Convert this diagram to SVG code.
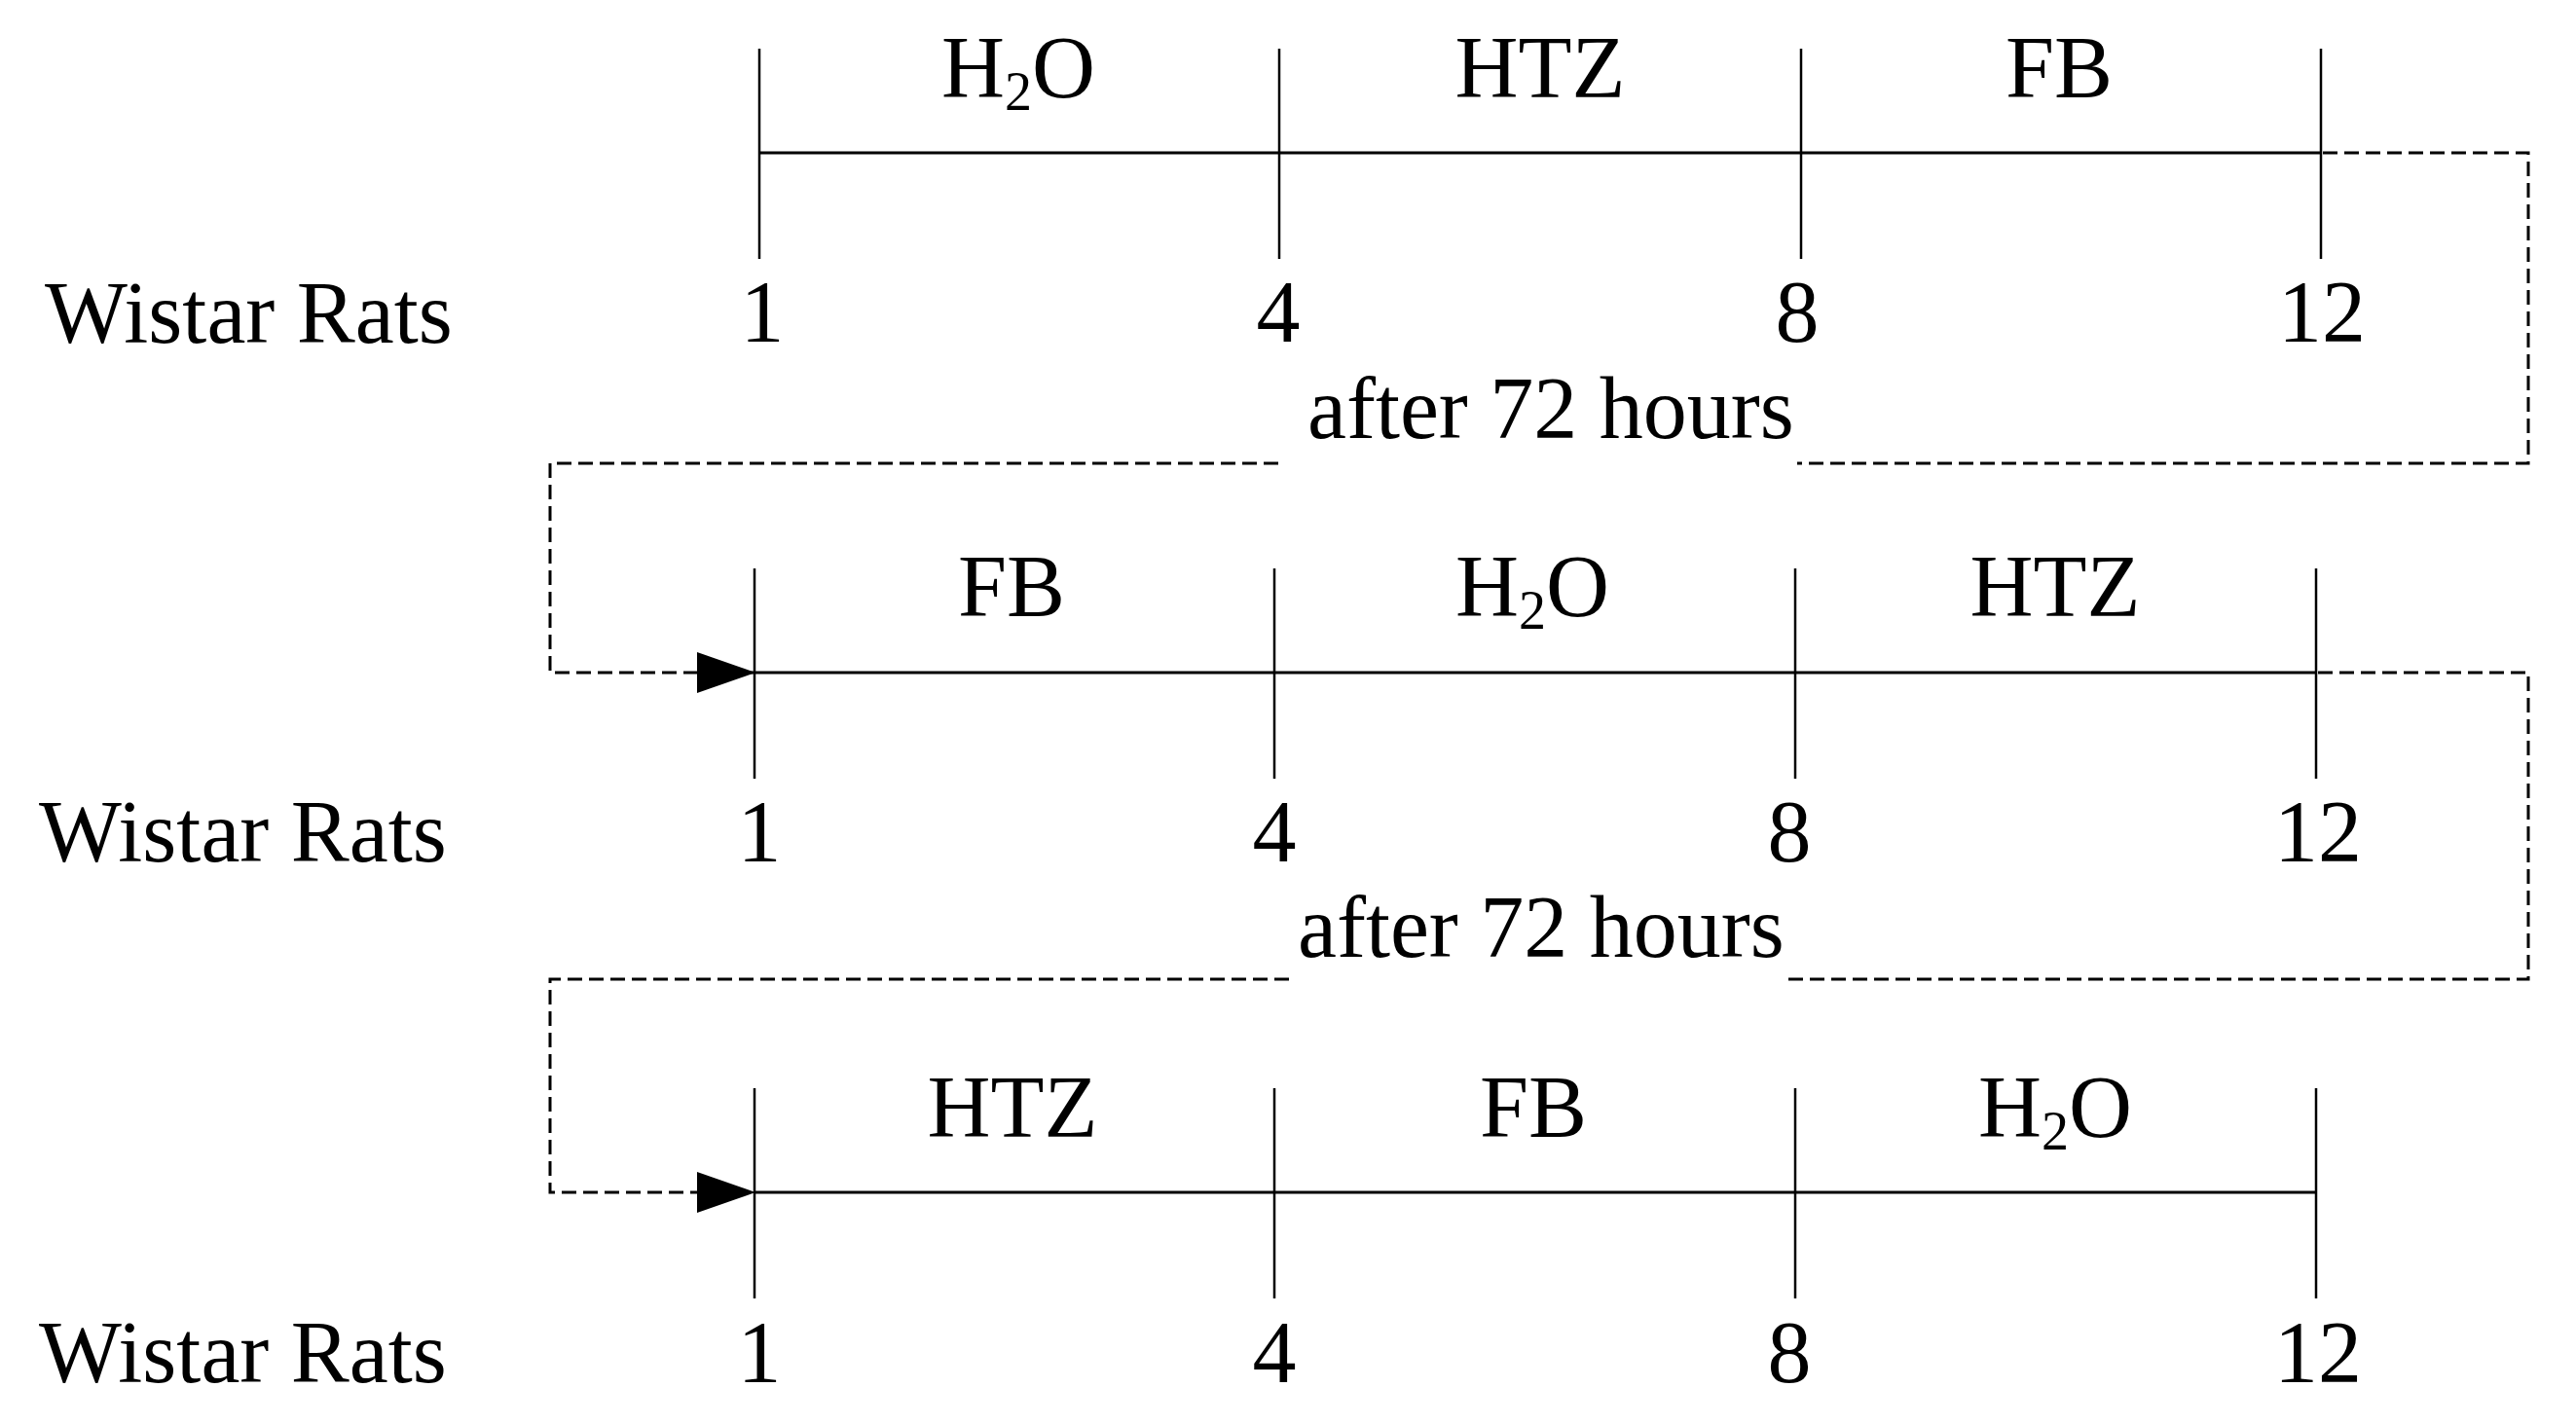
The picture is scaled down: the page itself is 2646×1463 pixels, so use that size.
<svg xmlns="http://www.w3.org/2000/svg" width="2646" height="1463" viewBox="0 0 2646 1463">
<style>
text{font-family:"Liberation Serif","Times New Roman",serif;font-size:90px;fill:#000}
.mid{text-anchor:middle}
.sub{font-size:56px}
.axis{stroke:#000;stroke-width:3;fill:none}
.tick{stroke:#000;stroke-width:2.5;fill:none}
.dash{stroke:#000;stroke-width:3;fill:none;stroke-dasharray:15 7}
</style>
<defs>
<marker id="arrow" markerUnits="userSpaceOnUse" markerWidth="62" markerHeight="44" refX="60" refY="21" orient="auto">
<path d="M0,0 L60,21 L0,42 Z" fill="#000"/>
</marker>
</defs>
<rect width="2646" height="1463" fill="#fff"/>

<g id="connectors">
<path class="dash" d="M2386,157 H2597 V476 H1846"/>
<path class="dash" d="M1313,476 H565 V691 H776" marker-end="url(#arrow)"/>
<path class="dash" d="M2381,691 H2597 V1006 H1833"/>
<path class="dash" d="M1324,1006 H565 V1225 H776" marker-end="url(#arrow)"/>
</g>

<g id="timeline1">
<line class="axis" x1="780" y1="157" x2="2385" y2="157"/>
<line class="tick" x1="780" y1="50" x2="780" y2="266"/>
<line class="tick" x1="1314" y1="50" x2="1314" y2="266"/>
<line class="tick" x1="1850" y1="50" x2="1850" y2="266"/>
<line class="tick" x1="2384" y1="50" x2="2384" y2="266"/>
<text class="mid" x="1046" y="100">H<tspan class="sub" dy="13">2</tspan><tspan dy="-13">O</tspan></text>
<text class="mid" x="1582" y="100">HTZ</text>
<text class="mid" x="2115" y="100">FB</text>
<text x="46" y="352">Wistar Rats</text>
<text class="mid" x="783" y="351">1</text>
<text class="mid" x="1313" y="351">4</text>
<text class="mid" x="1846" y="351">8</text>
<text class="mid" x="2385" y="351">12</text>
</g>

<g id="gap1">
<text x="1343" y="450">after 72 hours</text>
</g>

<g id="timeline2">
<line class="axis" x1="775" y1="691" x2="2380" y2="691"/>
<line class="tick" x1="775" y1="584" x2="775" y2="800"/>
<line class="tick" x1="1309" y1="584" x2="1309" y2="800"/>
<line class="tick" x1="1844" y1="584" x2="1844" y2="800"/>
<line class="tick" x1="2379" y1="584" x2="2379" y2="800"/>
<text class="mid" x="1039" y="633">FB</text>
<text class="mid" x="1574" y="633">H<tspan class="sub" dy="13">2</tspan><tspan dy="-13">O</tspan></text>
<text class="mid" x="2111" y="633">HTZ</text>
<text x="40" y="885">Wistar Rats</text>
<text class="mid" x="780" y="885">1</text>
<text class="mid" x="1309" y="885">4</text>
<text class="mid" x="1838" y="885">8</text>
<text class="mid" x="2381" y="885">12</text>
</g>

<g id="gap2">
<text x="1333" y="983">after 72 hours</text>
</g>

<g id="timeline3">
<line class="axis" x1="775" y1="1225" x2="2379" y2="1225"/>
<line class="tick" x1="775" y1="1118" x2="775" y2="1334"/>
<line class="tick" x1="1309" y1="1118" x2="1309" y2="1334"/>
<line class="tick" x1="1844" y1="1118" x2="1844" y2="1334"/>
<line class="tick" x1="2379" y1="1118" x2="2379" y2="1334"/>
<text class="mid" x="1040" y="1168">HTZ</text>
<text class="mid" x="1575" y="1168">FB</text>
<text class="mid" x="2111" y="1168">H<tspan class="sub" dy="13">2</tspan><tspan dy="-13">O</tspan></text>
<text x="40" y="1420">Wistar Rats</text>
<text class="mid" x="780" y="1420">1</text>
<text class="mid" x="1309" y="1420">4</text>
<text class="mid" x="1838" y="1420">8</text>
<text class="mid" x="2381" y="1420">12</text>
</g>
</svg>
